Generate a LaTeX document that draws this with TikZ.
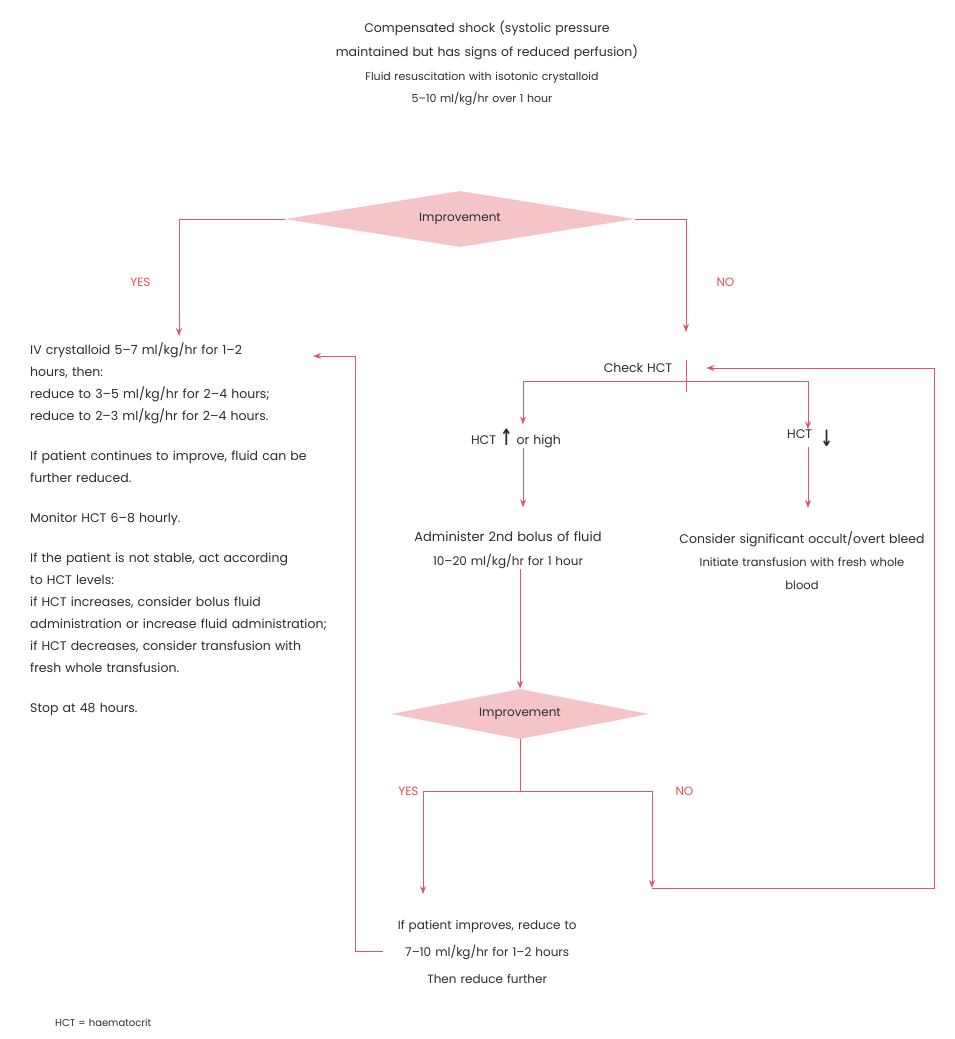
\documentclass[tikz,border=0pt]{standalone}
\usepackage{fontspec}
\setmainfont[WordSpace=1.2]{Poppins}
\newfontfamily\arrowfont{DejaVu Sans}
\usetikzlibrary{shapes.geometric, arrows.meta}

\definecolor{flowred}{RGB}{214,90,104}
\definecolor{flowpink}{RGB}{244,196,200}
\definecolor{flowtext}{RGB}{45,45,45}
\definecolor{flowlabel}{RGB}{226,80,88}

\newcommand{\hctup}{\raisebox{-1pt}{\scalebox{1.2}[1.8]{\arrowfont\bfseries ↑}}}
\newcommand{\hctdown}{\raisebox{-8pt}{\scalebox{1.2}[1.8]{\arrowfont\bfseries ↓}}}

\begin{document}
\begin{tikzpicture}[
	x=1pt, y=-1pt,
	big/.style={
		font=\fontsize{12.5}{24}\selectfont, text=flowtext,
		align=center, inner sep=0pt
	},
	small/.style={
		font=\fontsize{11}{22}\selectfont, text=flowtext,
		align=center, inner sep=0pt
	},
	decision/.style={
		diamond, aspect=6, fill=flowpink, inner sep=0pt,
		minimum width=#1, minimum height=56pt,
		font=\fontsize{12}{12}\selectfont, text=flowtext
	},
	line/.style={draw=flowred, line width=1pt},
	arr/.style={line, ->, >={Stealth[length=8pt, width=6pt]}},
	yn/.style={font=\fontsize{12}{12}\selectfont, text=flowlabel, inner sep=0pt},
	]
	\useasboundingbox[fill=white] (0,0) rectangle (954,1039);
	\node[big]   (shock) at (487,40)
	{Compensated shock (systolic pressure\\maintained but has signs of reduced perfusion)};
	\node[small] (fluid) at (482,89)
	{Fluid resuscitation with isotonic crystalloid\\5--10 ml/kg/hr over 1 hour};
	\node[decision=350pt] (improve) at (460,219) {Improvement};
	\node[big, align=left, anchor=north west, text width=330pt,
		font=\fontsize{12.5}{22}\selectfont] (stable) at (30,343)
	{IV crystalloid 5--7 ml/kg/hr for 1--2\\hours, then:\\
		reduce to 3--5 ml/kg/hr for 2--4 hours;\\
		reduce to 2--3 ml/kg/hr for 2--4 hours.\\[18pt]
		If patient continues to improve, fluid can be\\further reduced.\\[18pt]
		Monitor HCT 6--8 hourly.\\[18pt]
		If the patient is not stable, act according\\to HCT levels:\\
		if HCT increases, consider bolus fluid\\
		administration or increase fluid administration;\\
		if HCT decreases, consider transfusion with\\
		fresh whole transfusion.\\[18pt]
		Stop at 48 hours.};
	\node[big]   (check) at (638,368) {Check HCT};
	\coordinate  (hub) at (686,368);
	\node[big]   (high) at (516,438) {HCT \hctup{} or high};
	\node[big]   (low)  at (810,438) {HCT\ \ \hctdown};
	\node[big, font=\fontsize{13}{24}\selectfont] (admin) at (508,550)
	{Administer 2nd bolus of fluid\\{\fontsize{12}{24}\selectfont 10--20 ml/kg/hr for 1 hour}};
	\node[big, font=\fontsize{12.5}{23}\selectfont] (bleed) at (802,561)
	{Consider significant occult/overt bleed\\{\fontsize{11.5}{23}\selectfont Initiate transfusion with fresh whole}\\{\fontsize{11.5}{23}\selectfont blood}};
	\node[decision=258pt, minimum height=50pt] (again) at (520,714) {Improvement};
	\node[big, font=\fontsize{12}{27}\selectfont, anchor=north west,
		text width=200pt] (better) at (387,920)
	{If patient improves, reduce to\\7--10 ml/kg/hr for 1--2 hours\\Then reduce further};
	\coordinate  (noend) at (652,888);
	\node[small, font=\fontsize{10}{10}\selectfont, anchor=west] (key) at (55,1023)
	{HCT = haematocrit};
	% first decision
	\draw[arr] (improve.west) -|
		node[yn, left=28pt, pos=0.77] {YES} ([xshift=149pt, yshift=7pt]stable.north west);
	\draw[arr] (improve.east) -|
		node[yn, right=30pt, pos=0.78] {NO} ([yshift=36pt]hub);
	% haematocrit split
	\draw[line] ([yshift=8pt]hub) -- ([yshift=-24pt]hub);
	\draw[line] ([yshift=-13pt]hub) coordinate (split) -- ++(-163,0) coordinate (splitl);
	\draw[arr] (split) -| (low.north west -| 808,0);
	\draw[arr, shorten >=4pt] (splitl) -- (high.north -| splitl);
	\draw[arr, shorten >=24pt] (high.south -| splitl) -- (admin.north -| splitl);
	\draw[arr, shorten >=24pt] (low.south -| 808,0) -- (bleed.north -| 808,0);
	\draw[arr] (admin.south -| again.north) -- (again.north);
	% second decision
	\draw[line] (again.south) -- ++(0,52) coordinate (split2);
	\draw[arr] (split2) -| node[yn, left=4pt, pos=0.5] {YES}
		([xshift=36pt, yshift=26pt]better.north west);
	\draw[arr] (split2) -| node[yn, right=23pt, pos=0.5] {NO} (noend);
	% loops back
	\draw[arr] (noend) -- ++(282,0) |- ([xshift=34pt]check.east);
	\draw[arr] ([xshift=-4pt, yshift=-31pt]better.north west) -- ++(-28,0)
		|- ([xshift=283pt, yshift=-13pt]stable.north west);
\end{tikzpicture}
\end{document}
